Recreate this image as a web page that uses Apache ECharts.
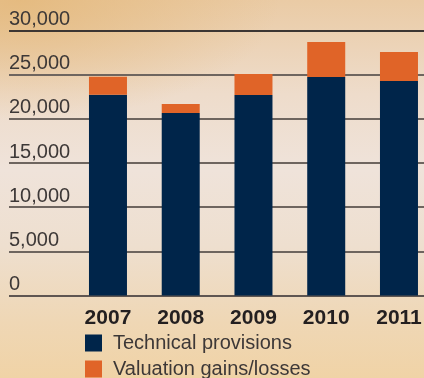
<!DOCTYPE html>
<html>
<head>
<meta charset="utf-8">
<script src="https://cdn.jsdelivr.net/npm/echarts@6/dist/echarts.min.js"></script>
<style>
html,body{margin:0;padding:0;}
body{width:424px;height:378px;overflow:hidden;
background:
 radial-gradient(ellipse 260px 120px at 20px 0px, rgba(228,184,122,0.85), rgba(228,184,122,0) 100%),
 linear-gradient(180deg,#eacba5 0%,#eedccb 25%,#efe3da 45%,#eedfcf 65%,#efd7b5 85%,#f0d3a6 100%);}
#c{width:424px;height:378px;}
</style>
</head>
<body>
<div id="c"></div>
<script>
const years = ['2007','2008','2009','2010','2011'];
const technicalProvisions = [22750, 20680, 22720, 24750, 24300];
const valuationGainsLosses = [2040, 1020, 2380, 3970, 3290];
const yTicks = [0, 5000, 10000, 15000, 20000, 25000, 30000];

const chart = echarts.init(document.getElementById('c'), null, {renderer:'canvas'});
const fmt = v => v.toLocaleString('en-US');
chart.setOption({
  backgroundColor: 'transparent',
  animation: false,
  grid: [
    {left: 9, right: 0, top: 30.7, bottom: 82.5, outerBoundsMode: 'none', containLabel: false},
    {left: 71.6, width: 363.75, top: 30.7, bottom: 82.5, outerBoundsMode: 'none', containLabel: false}
  ],
  xAxis: [
    {gridIndex: 0, type: 'category', data: years, show: false},
    {gridIndex: 1, type: 'category', data: years,
     axisLine: {show: false}, axisTick: {show: false},
     axisLabel: {margin: 12, fontFamily: 'Liberation Sans, Arial, sans-serif', fontWeight: 'bold', fontSize: 21, color: '#231f20'}}
  ],
  yAxis: [
    {gridIndex: 0, type: 'value', min: yTicks[0], max: yTicks[yTicks.length-1], interval: 5000,
     axisLine: {show: false}, axisTick: {show: false},
     splitLine: {show: true, lineStyle: {color: ['#5f5651','#6e655f','#6e655f','#6e655f','#6e655f','#6e655f','#3c3633'], width: 2}},
     axisLabel: {inside: true, margin: 0, align: 'left', verticalAlign: 'bottom', padding: [0,0,1,0],
       fontFamily: 'Liberation Sans, Arial, sans-serif', fontSize: 20, color: '#3d3837', formatter: fmt}},
    {gridIndex: 1, type: 'value', min: 0, max: 30000, interval: 5000, show: false}
  ],
  legend: {
    orient: 'vertical', left: 85, top: 333, height: 80, padding: 0, itemWidth: 17, itemHeight: 17, itemGap: 6,
    icon: 'rect',
    textStyle: {fontFamily: 'Liberation Sans, Arial, sans-serif', fontSize: 20, color: '#3d3837', padding: [0,0,0,6]},
    data: ['Technical provisions', 'Valuation gains/losses']
  },
  series: [
    {name: 'Technical provisions', type: 'bar', stack: 'a', xAxisIndex: 1, yAxisIndex: 1,
     barWidth: 38, data: technicalProvisions, itemStyle: {color: '#00254a'}},
    {name: 'Valuation gains/losses', type: 'bar', stack: 'a', xAxisIndex: 1, yAxisIndex: 1,
     barWidth: 38, data: valuationGainsLosses, itemStyle: {color: '#e06428'}}
  ]
});
</script>
</body>
</html>
